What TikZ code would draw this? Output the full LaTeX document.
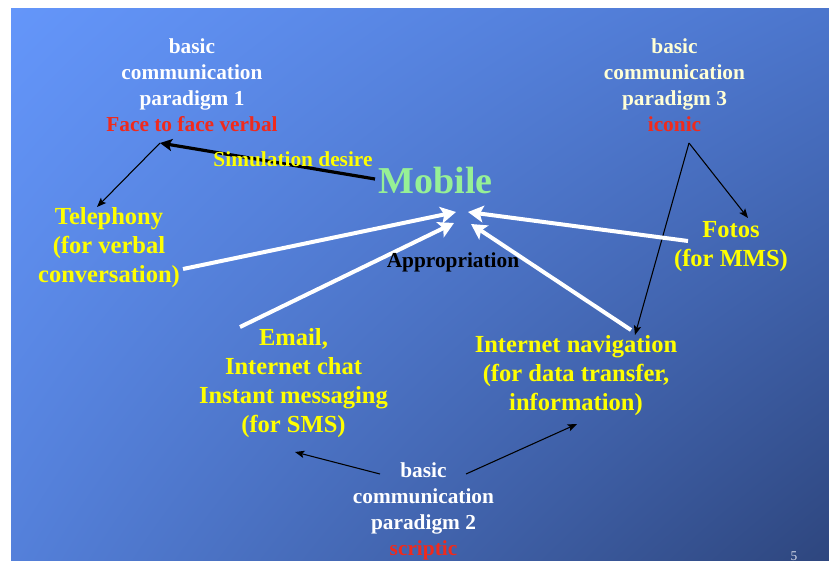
\documentclass[tikz,border=0pt]{standalone}
\usepackage{fontspec}
\setmainfont{Liberation Serif}
\usetikzlibrary{arrows.meta,shadings}

\definecolor{bgTL}{RGB}{100,150,250}
\definecolor{bgTR}{RGB}{76,118,205}
\definecolor{bgBL}{RGB}{84,128,218}
\definecolor{bgBR}{RGB}{46,70,126}
\definecolor{itemyellow}{RGB}{255,255,0}
\definecolor{kwred}{RGB}{240,42,28}
\definecolor{cream}{RGB}{255,255,214}
\definecolor{mobilegreen}{RGB}{150,240,150}
\definecolor{pagenum}{RGB}{215,220,235}

\begin{document}
\begin{tikzpicture}[x=0.75pt,y=-0.75pt,
  paradigm/.style={font=\bfseries\fontsize{16}{19.5}\selectfont, align=center,
    inner sep=0pt, anchor=base, text=white},
  item/.style={font=\bfseries\fontsize{18.4}{21.75}\selectfont, align=center,
    inner sep=0pt, anchor=base, text=itemyellow},
  caption/.style={font=\bfseries\fontsize{16}{19.5}\selectfont,
    inner sep=0pt, anchor=base},
  approp/.style={draw=white, line width=3pt,
    -{Stealth[length=11.5pt,width=12.5pt,inset=2.5pt]}},
  desire/.style={draw=black, line width=2.4pt,
    -{Stealth[length=9pt,width=9pt,inset=2pt]}},
  link/.style={draw=black, line width=0.8pt,
    -{Stealth[length=7pt,width=5.5pt,inset=1.5pt]}}]

% canvas and slide background
\path[use as bounding box] (0,0) rectangle (829,561);
\fill[white] (0,0) rectangle (829,561);
\shade[upper left=bgTL, upper right=bgTR, lower left=bgBL, lower right=bgBR]
  (11,8) rectangle (829,561);

% connector end points
\coordinate (p1tip)     at (160,143);
\coordinate (mobW)      at (375,179);
\coordinate (telTop)    at (97,207);
\coordinate (p3apex)    at (689,143);
\coordinate (fotosTop)  at (748,218);
\coordinate (navTop)    at (635,335);
\coordinate (p2L)       at (380,474);
\coordinate (p2R)       at (466,474);
\coordinate (emailBot)  at (295,452);
\coordinate (navBot)    at (577,424);
\coordinate (telR)      at (183,269);
\coordinate (emailTop)  at (240,327);
\coordinate (fotosL)    at (688,241);
\coordinate (navStart)  at (631,330);
\coordinate (mTelTip)   at (456,212);
\coordinate (mEmailTip) at (454,223);
\coordinate (mFotosTip) at (468,212);
\coordinate (mNavTip)   at (471,224);

% simulation desire
\draw[desire] (mobW) -- (p1tip);
\draw[link] (p1tip) -- (telTop);

% paradigm links
\draw[link] (p3apex) -- (fotosTop);
\draw[link] (p3apex) -- (navTop);
\draw[link] (p2L) -- (emailBot);
\draw[link] (p2R) -- (navBot);

% appropriation
\draw[approp] (telR) -- (mTelTip);
\draw[approp] (emailTop) -- (mEmailTip);
\draw[approp] (fotosL) -- (mFotosTip);
\draw[approp] (navStart) -- (mNavTip);

% the three basic communication paradigms (placed by the baseline of their last line)
\node[paradigm] (par1) at (192,131)
  {basic\\communication\\paradigm 1\\\textcolor{kwred}{Face to face verbal}};
\node[paradigm, text=cream] (par3) at (674.5,131)
  {basic\\communication\\paradigm 3\\\textcolor{kwred}{iconic}};
\node[paradigm] (par2) at (423.5,555)
  {basic\\communication\\paradigm 2\\\textcolor{kwred}{scriptic}};

% media
\node[item] (tel) at (109,282) {Telephony\\(for verbal\\conversation)};
\node[item] (fotos) at (731,266) {Fotos\\(for MMS)};
\node[item] (email) at (293.5,432)
  {Email,\\Internet chat\\Instant messaging\\(for SMS)};
\node[item] (nav) at (576,410)
  {Internet navigation\\(for data transfer,\\information)};

% centre
\node[caption, font=\bfseries\fontsize{28.5}{34}\selectfont, text=mobilegreen]
  (mobile) at (435.5,193) {Mobile};
\node[caption, text=itemyellow] (simdes) at (293,166) {Simulation desire};
\node[caption, text=black] (approp) at (453,267) {Appropriation};
\node[caption, font=\fontsize{10}{12}\selectfont, text=pagenum]
  (pageno) at (794,560) {5};
\end{tikzpicture}
\end{document}
